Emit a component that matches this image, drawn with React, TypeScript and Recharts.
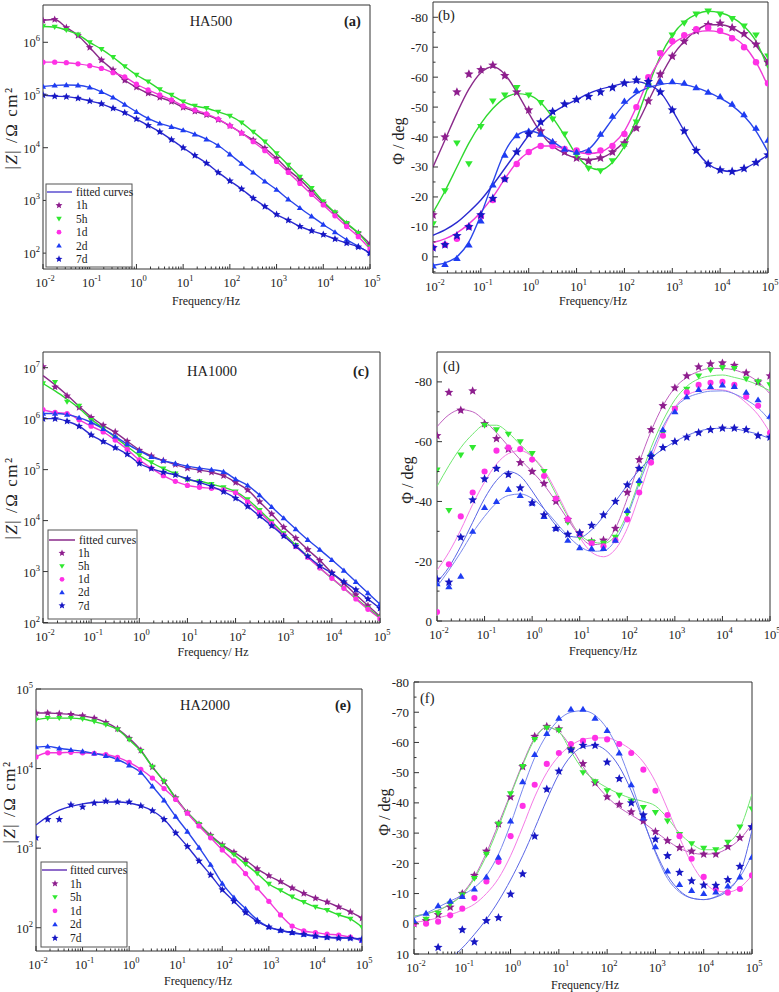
import React from 'react';
import { ComposedChart, Line, Scatter, XAxis, YAxis, ReferenceArea } from 'recharts';

const SERIF = '"Liberation Serif", "Times New Roman", serif';
const W = 779;
const H = 992;
const AX = '#333';

// ---------------- shared categories ----------------
const FREQ = [0.01, 0.0178, 0.0316, 0.0562, 0.1, 0.178, 0.316, 0.562, 1, 1.78, 3.16, 5.62, 10, 17.8, 31.6, 56.2, 100, 178, 316, 562, 1000, 1780, 3160, 5620, 10000, 17800, 31600, 56200, 100000];
const X_MAJOR = [0.01, 0.1, 1, 10, 100, 1000, 10000, 100000];
const X_MINOR = X_MAJOR.slice(0, -1).flatMap((m) => [2, 3, 4, 5, 6, 7, 8, 9].map((k) => k * m));

// ---------------- (a) HA500 |Z| ----------------
const A_H1 = [2.6e6, 2.7e6, 1.9e6, 1.35e6, 8.0e5, 4.6e5, 3.0e5, 1.9e5, 1.4e5, 1.08e5, 9.0e4, 7.5e4, 5.8e4, 4.9e4, 4.2e4, 3.4e4, 2.6e4, 1.9e4, 1.4e4, 9.8e3, 6.3e3, 3.8e3, 2.5e3, 1.5e3, 890, 580, 360, 240, 150];
const A_H5 = [2.0e6, 1.95e6, 1.7e6, 1.4e6, 1.0e6, 7.4e5, 5.2e5, 3.5e5, 2.4e5, 1.8e5, 1.28e5, 1.0e5, 7.5e4, 6.2e4, 5.6e4, 4.8e4, 4.0e4, 3.0e4, 2.0e4, 1.3e4, 7.8e3, 4.7e3, 2.8e3, 1.7e3, 950, 590, 370, 240, 130];
const A_D1 = [4.2e5, 4.2e5, 4.1e5, 3.9e5, 3.6e5, 3.2e5, 2.65e5, 2.2e5, 1.6e5, 1.25e5, 1.0e5, 8.1e4, 6.2e4, 5.2e4, 4.4e4, 3.5e4, 2.6e4, 1.9e4, 1.3e4, 8.8e3, 5.5e3, 3.4e3, 2.1e3, 1.3e3, 820, 510, 320, 205, 120];
const A_D2 = [1.45e5, 1.52e5, 1.55e5, 1.53e5, 1.4e5, 1.15e5, 9.0e4, 6.6e4, 4.8e4, 3.6e4, 2.9e4, 2.5e4, 2.15e4, 1.8e4, 1.45e4, 1.1e4, 7.5e3, 5.0e3, 3.4e3, 2.3e3, 1.6e3, 1.05e3, 720, 500, 350, 250, 180, 135, 100];
const A_D7 = [1.0e5, 9.5e4, 9.3e4, 8.7e4, 7.7e4, 6.8e4, 5.6e4, 4.6e4, 3.5e4, 2.65e4, 2.0e4, 1.42e4, 1.0e4, 7.1e3, 5.1e3, 3.4e3, 2.35e3, 1.65e3, 1.1e3, 770, 540, 420, 320, 265, 225, 185, 155, 131, 100];

// ---------------- (b) HA500 phase ----------------
const B_H1 = [-14, -40, -55, -61, -62.5, -64, -60.5, -55, -49, -42, -38, -35, -33, -32, -33, -35, -38, -43, -52, -61, -67, -72, -75.5, -77.5, -78, -76.5, -74.5, -71, -65];
const B_H1_F = [-30, -39, -48, -56, -61.5, -63.5, -61, -55, -48, -41.5, -37, -34.5, -33, -32.5, -33, -35, -38.5, -44, -52, -60, -67, -72, -75.5, -77.5, -77.5, -76.5, -74, -70.5, -65];
const B_H5 = [-11, -22, -38, -31, -43.5, -52, -54, -56.5, -54, -51.5, -46, -41, -34, -29.5, -28.7, -32, -37, -45, -57, -68, -74, -78, -81, -82, -81, -79.5, -77, -74, -67];
const B_H5_F = [-14.8, -22, -30, -38, -44.5, -49.5, -53, -54.5, -54, -51.5, -46.5, -40.5, -34, -30, -29, -31.5, -37, -46, -57, -67, -74, -78.5, -81, -82, -81.5, -80, -77, -72, -63];
const B_D1 = [-3, -4, -6, -10, -13.5, -19, -26, -31, -35, -37, -37, -36, -35.5, -35, -35.5, -37, -41, -50, -60, -68, -72, -74, -76, -76.5, -75.5, -73, -70, -65, -58];
const B_D1_F = [-4.8, -6, -8, -11, -15, -20, -26, -31.5, -35, -37, -37, -36, -35, -34.5, -35, -37.5, -42, -50, -59, -66, -71, -73.5, -75, -75.5, -75, -73.5, -70.5, -65, -57];
const B_D2 = [3, 2.5, 0.5, -4, -12, -24, -34, -40.5, -42, -41, -38.5, -36, -35, -35.5, -41, -47, -52, -55.5, -57.5, -58.5, -58.5, -58, -56.5, -55, -53.5, -51, -47.5, -43, -39];
const B_D2_F = [2.8, 2, 0, -5, -14, -25, -35, -40.5, -42, -41, -38.5, -36, -35, -36, -40.5, -46, -51, -54.5, -56.5, -57.5, -58, -57.5, -56.5, -55, -53, -50.5, -47, -42, -35];
const B_D7 = [-3, -4, -7, -10, -14, -19.5, -26, -35, -41, -45, -48.5, -51, -52.5, -53.5, -55, -56.5, -58, -59, -58.5, -55, -49, -42, -35.5, -31, -29, -28.5, -29.5, -31.5, -34];
const B_D7_F = [-7.2, -9, -11.5, -15, -19, -24, -29.5, -35, -40.5, -44.5, -48, -50.5, -52.5, -54.5, -56, -57, -58, -58.5, -57.5, -55, -49, -42, -35.5, -31, -29, -28.5, -29.5, -31.5, -34];

// ---------------- (c) HA1000 |Z| ----------------
const C_H1 = [1.05e7, 4.2e6, 2.8e6, 1.66e6, 1.05e6, 7.4e5, 5.5e5, 3.6e5, 2.4e5, 1.86e5, 1.5e5, 1.26e5, 1.07e5, 9.8e4, 8.9e4, 7.6e4, 5.6e4, 4.0e4, 2.34e4, 1.35e4, 7.4e3, 4.5e3, 2.7e3, 1.66e3, 950, 590, 350, 215, 132];
const C_H1_F = [7.0e6, 4.6e6, 2.9e6, 1.75e6, 1.08e6, 7.4e5, 5.4e5, 3.6e5, 2.45e5, 1.86e5, 1.5e5, 1.26e5, 1.07e5, 9.8e4, 8.9e4, 7.6e4, 5.6e4, 4.0e4, 2.34e4, 1.35e4, 7.4e3, 4.5e3, 2.7e3, 1.66e3, 950, 590, 350, 215, 132];
const C_H5 = [4.9e6, 5.2e6, 2.14e6, 1.78e6, 9.3e5, 6.3e5, 4.2e5, 2.8e5, 1.9e5, 1.38e5, 1.05e5, 8.3e4, 6.3e4, 5.9e4, 5.2e4, 4.5e4, 3.7e4, 2.6e4, 1.6e4, 9.5e3, 5.6e3, 3.3e3, 1.95e3, 1.18e3, 740, 470, 300, 190, 126];
const C_H5_F = [4.9e6, 3.5e6, 2.4e6, 1.6e6, 9.8e5, 6.5e5, 4.3e5, 2.85e5, 1.9e5, 1.38e5, 1.05e5, 8.3e4, 6.3e4, 5.9e4, 5.2e4, 4.5e4, 3.7e4, 2.6e4, 1.6e4, 9.5e3, 5.6e3, 3.3e3, 1.95e3, 1.18e3, 740, 470, 300, 190, 126];
const C_D1 = [1.5e6, 1.32e6, 1.26e6, 9.5e5, 7.1e5, 5.5e5, 3.8e5, 2.5e5, 1.55e5, 1.07e5, 7.6e4, 5.9e4, 4.9e4, 4.5e4, 4.3e4, 4.0e4, 3.5e4, 2.34e4, 1.45e4, 8.7e3, 5.2e3, 3.1e3, 1.9e3, 1.18e3, 740, 470, 290, 182, 120];
const C_D2 = [1.26e6, 1.26e6, 1.2e6, 1.05e6, 8.5e5, 6.3e5, 4.5e5, 3.16e5, 2.34e5, 1.78e5, 1.5e5, 1.32e5, 1.17e5, 1.07e5, 1.0e5, 9.1e4, 6.5e4, 4.9e4, 3.16e4, 1.86e4, 1.12e4, 6.8e3, 4.2e3, 2.7e3, 1.7e3, 1.05e3, 630, 380, 230];
const C_D7 = [1.0e6, 1.0e6, 8.9e5, 7.1e5, 4.8e5, 3.55e5, 2.7e5, 2.0e5, 1.32e5, 1.05e5, 8.9e4, 7.9e4, 6.6e4, 5.6e4, 4.7e4, 3.7e4, 2.75e4, 1.9e4, 1.23e4, 7.9e3, 5.0e3, 3.16e3, 2.0e3, 1.29e3, 930, 630, 440, 290, 190];

// ---------------- (d) HA1000 phase ----------------
const D_H1 = [-62, -76.5, -70.5, -77, -66, -61, -57.5, -53, -50, -46, -40, -34, -29.5, -26.5, -27, -31, -43, -54, -64, -72, -78, -82, -85, -86, -86.3, -85.5, -83, -80, -82];
const D_H1_F = [-65, -69, -70.7, -70, -67, -63, -58.5, -54, -50, -45.5, -40, -34, -28.5, -25.5, -26, -31, -41, -53, -63.5, -72, -78, -81.5, -83.5, -84.5, -84.5, -84, -82.5, -80, -76];
const D_H5 = [-50.5, -37, -55.5, -58, -65.5, -64, -62.5, -60, -56, -50, -41, -33, -28, -26.5, -26, -28, -36, -46, -55, -63, -71, -77.5, -82, -84, -84.7, -84.5, -81, -80, -79];
const D_H5_F = [-45, -52, -58, -62.5, -65.5, -65.5, -63, -59, -55, -50, -42.5, -35, -29, -26.5, -26, -28.5, -36, -47, -58, -67, -74, -78.5, -81, -82, -82.3, -81.5, -80.5, -79, -77];
const D_D1 = [-3, -19, -35, -43, -50, -57, -58, -57.5, -54, -48.5, -41, -34, -29, -26, -25, -27, -34, -43, -53, -62, -71, -76.5, -79, -79.7, -80, -79, -75, -72, -63];
const D_D1_F = [-17, -23, -30.5, -39, -46.5, -52.5, -56, -57, -55, -50.5, -43.5, -35.5, -28, -23, -21.5, -24, -31, -42, -54, -64, -71.5, -75.5, -77, -77.5, -77.3, -76, -73, -69, -63];
const D_D2 = [-12.5, -11.5, -15, -30, -38, -40, -44, -42, -39.5, -35, -31, -27, -24.5, -24.3, -24.3, -27, -37, -47, -56, -64, -70, -75, -77.5, -78.5, -79, -78.5, -76.5, -74, -68.5];
const D_D2_F = [-11.5, -17, -23, -29.5, -35, -39.5, -42, -42.5, -41, -37.5, -33, -28.5, -25, -23.3, -23.5, -27, -35, -46, -56, -65, -71.3, -74.6, -76.1, -76.9, -77, -76, -74, -71.3, -67];
const D_D7 = [-14, -13, -28, -40.5, -47.5, -51, -49, -44.5, -39.5, -35.5, -31, -29, -29.4, -32, -35.5, -40, -45.5, -51, -55, -58, -60, -61.5, -63, -64, -64.5, -64.5, -64, -62, -61.5];
const D_D7_F = [-13, -18, -25, -33, -41, -47, -50, -48.5, -43.5, -37.5, -32, -28.5, -28, -30.5, -35, -40, -45.5, -50.5, -54.5, -57.5, -60, -62, -63.5, -64.3, -64.5, -64.3, -63.5, -62.5, -61];

// ---------------- (e) HA2000 |Z| ----------------
const E_H1 = [5.0e4, 5.0e4, 4.9e4, 4.8e4, 4.6e4, 4.3e4, 3.8e4, 3.16e4, 2.4e4, 1.7e4, 1.05e4, 6.9e3, 4.3e3, 2.8e3, 2.0e3, 1.45e3, 1.1e3, 890, 710, 550, 450, 380, 316, 270, 235, 210, 182, 158, 132];
const E_H5 = [4.1e4, 4.3e4, 4.3e4, 4.3e4, 4.2e4, 3.9e4, 3.55e4, 3.1e4, 2.3e4, 1.66e4, 1.05e4, 6.9e3, 4.2e3, 2.8e3, 2.0e3, 1.4e3, 1.07e3, 830, 630, 480, 355, 295, 245, 210, 182, 166, 145, 129, 102];
const E_D1 = [1.4e4, 1.58e4, 1.58e4, 1.6e4, 1.58e4, 1.55e4, 1.5e4, 1.38e4, 1.2e4, 9.8e3, 7.6e3, 5.6e3, 4.1e3, 2.75e3, 1.9e3, 1.35e3, 950, 690, 480, 316, 215, 145, 105, 91, 87, 83, 81, 76, 69];
const E_D2 = [1.86e4, 1.9e4, 1.8e4, 1.72e4, 1.65e4, 1.55e4, 1.45e4, 1.3e4, 1.1e4, 8.9e3, 6.0e3, 4.0e3, 2.5e3, 1.62e3, 1.02e3, 620, 360, 240, 174, 126, 102, 92, 86, 82, 78, 76, 75, 74, 69];
const E_D7 = [1.35e3, 2.3e3, 2.3e3, 3.5e3, 3.3e3, 3.7e3, 3.9e3, 3.8e3, 3.8e3, 3.4e3, 2.95e3, 2.3e3, 1.55e3, 1.05e3, 690, 460, 300, 215, 155, 120, 102, 93, 87, 83, 79, 76, 74, 74, 72];
const E_D7_F = [1.95e3, 2.5e3, 3.0e3, 3.35e3, 3.6e3, 3.75e3, 3.8e3, 3.8e3, 3.7e3, 3.4e3, 2.95e3, 2.3e3, 1.55e3, 1.05e3, 690, 460, 300, 215, 155, 120, 102, 93, 87, 83, 79, 76, 74, 74, 72];

// ---------------- (f) HA2000 phase ----------------
const F_H1 = [0, -1, -3, -5.5, -10, -16, -24, -33, -42, -52, -62, -65.3, -64.5, -58, -53, -46.6, -42, -39.5, -37, -34, -30.5, -27.5, -25.2, -24, -23, -23, -25.5, -28.5, -32];
const F_H1_F = [-2.5, -3.3, -4.5, -6.5, -10, -15.5, -23.5, -33, -43, -53, -61.5, -65, -63.5, -58.5, -52, -46.5, -42, -38.5, -36, -33.5, -30.5, -27.5, -25, -23.5, -23, -23.3, -25, -28, -33];
const F_H5 = [0.5, -1.5, -3.5, -6.5, -9.5, -15, -23, -33, -43, -52, -61, -64.8, -64, -57.5, -50, -47, -44, -42.5, -40.5, -38.5, -36.8, -34, -29.5, -26.5, -25, -24.5, -27, -32, -38];
const F_H5_F = [-2.5, -3.3, -4.5, -6.5, -9.5, -15, -22.5, -32, -42.5, -52.5, -61, -65, -63.5, -57, -51, -47.5, -45, -43, -41.5, -40.5, -39, -35, -30, -26.5, -24.5, -24.5, -26.5, -31.5, -43];
const F_D1 = [0, 0, -0.7, -2.8, -5, -8.5, -14, -20.5, -29, -39, -46, -52.9, -56.5, -59.5, -60.5, -61.5, -61, -59.5, -56.5, -51, -44, -36, -29, -21.5, -15.5, -11.5, -10.3, -11.5, -16];
const F_D1_F = [-0.5, -1, -2, -3, -4.5, -6.5, -10, -15, -22.5, -32, -42, -50, -55.5, -59, -61, -61.5, -61.5, -60, -57.5, -53.5, -47, -38, -28.5, -20, -14, -11, -10.5, -12, -16];
const F_D2 = [-1, -3.5, -6, -7.5, -9, -11.5, -15.5, -22, -34, -47, -56, -63, -68, -71, -71, -68, -64, -56.5, -46, -35, -25.5, -17.5, -13, -11, -10, -10.5, -12.5, -15.5, -22];
const F_D2_F = [-2, -3.5, -5.5, -7.5, -9.5, -12, -16, -23, -33, -44.5, -55, -62.5, -67.5, -70, -70.5, -69, -64.5, -57, -46.5, -34.5, -23.5, -15, -10.5, -8.5, -8, -9, -11.5, -15.5, -23];
const F_D7 = [null, null, 7.8, null, 2, 6, -1, -2, -9.8, -16.5, -29, -44.5, -50.5, -57.5, -59, -59, -53.5, -48, -40, -36, -28, -22.5, -17, -14.2, -12.8, -12.7, -14.6, -19, -32];
const F_D7_F = [null, null, null, 11.5, 8, 3.5, -1.5, -7.5, -14.5, -22.5, -31.5, -41, -49.5, -55.5, -58.5, -59, -57, -52, -44, -34, -24, -16, -11, -8.5, -8, -8.8, -11, -16.5, -31];

// ---------------- series styling ----------------
type Kind = 'star' | 'tdown' | 'circle' | 'tup';
const SERIES: { key: string; name: string; kind: Kind; color: string; line: string; light: string }[] = [
  { key: 'h1', name: '1h', kind: 'star', color: '#8e1e8e', line: '#8a2a8a', light: '#c060c0' },
  { key: 'h5', name: '5h', kind: 'tdown', color: '#30e830', line: '#2fd82f', light: '#70e870' },
  { key: 'd1', name: '1d', kind: 'circle', color: '#ff30e6', line: '#f03ad8', light: '#f57ae6' },
  { key: 'd2', name: '2d', kind: 'tup', color: '#1e3cf2', line: '#2a46ea', light: '#7888ee' },
  { key: 'd7', name: '7d', kind: 'star', color: '#1717c4', line: '#2a2ad0', light: '#5a66e6' },
];

type Box = { x: number; y: number; w: number; h: number };
type Panel = {
  id: string;
  box: Box;
  log: boolean;
  yDomain: [number, number];
  yTicks: number[];
  yMinor: number[];
  marks: (number | null)[][];
  fits: (number | null)[][];
  light: boolean;
  r: number;
};

const PANELS: Panel[] = [
  { id: 'a', box: { x: 43, y: 5, w: 327, h: 264 }, log: true, yDomain: [50, 5.1e6], yTicks: [1e2, 1e3, 1e4, 1e5, 1e6], yMinor: [],
    marks: [A_H1, A_H5, A_D1, A_D2, A_D7], fits: [A_H1, A_H5, A_D1, A_D2, A_D7], light: false, r: 3.1 },
  { id: 'b', box: { x: 433, y: 2, w: 335, h: 271 }, log: false, yDomain: [-85.1, 5.4], yTicks: [-80, -70, -60, -50, -40, -30, -20, -10, 0], yMinor: [-75, -65, -55, -45, -35, -25, -15, -5, 5],
    marks: [B_H1, B_H5, B_D1, B_D2, B_D7], fits: [B_H1_F, B_H5_F, B_D1_F, B_D2_F, B_D7_F], light: false, r: 3.8 },
  { id: 'c', box: { x: 43, y: 352, w: 337, h: 271 }, log: true, yDomain: [98, 2.03e7], yTicks: [1e2, 1e3, 1e4, 1e5, 1e6, 1e7], yMinor: [],
    marks: [C_H1, C_H5, C_D1, C_D2, C_D7], fits: [C_H1_F, C_H5_F, C_D1, C_D2, C_D7], light: false, r: 3.1 },
  { id: 'd', box: { x: 437, y: 352, w: 333, h: 269 }, log: false, yDomain: [-90, 0], yTicks: [-80, -60, -40, -20, 0], yMinor: [-70, -50, -30, -10],
    marks: [D_H1, D_H5, D_D1, D_D2, D_D7], fits: [D_H1_F, D_H5_F, D_D1_F, D_D2_F, D_D7_F], light: true, r: 3.6 },
  { id: 'e', box: { x: 36, y: 689, w: 326, h: 262 }, log: true, yDomain: [51, 1e5], yTicks: [1e2, 1e3, 1e4, 1e5], yMinor: [],
    marks: [E_H1, E_H5, E_D1, E_D2, E_D7], fits: [E_H1, E_H5, E_D1, E_D2, E_D7_F], light: false, r: 3.1 },
  { id: 'f', box: { x: 414, y: 682, w: 338, h: 272 }, log: false, yDomain: [-80, 10], yTicks: [-80, -70, -60, -50, -40, -30, -20, -10, 0, 10], yMinor: [-75, -65, -55, -45, -35, -25, -15, -5, 5],
    marks: [F_H1, F_H5, F_D1, F_D2, F_D7], fits: [F_H1_F, F_H5_F, F_D1_F, F_D2_F, F_D7_F], light: true, r: 3.6 },
];

const toPts = (arr: (number | null)[]) =>
  FREQ.map((f, i) => ({ f, y: arr[i] })).filter((d) => d.y !== null && d.y !== undefined);

function starPath(cx: number, cy: number, r: number) {
  let d = '';
  for (let i = 0; i < 10; i++) {
    const a = -Math.PI / 2 + (i * Math.PI) / 5;
    const rr = i % 2 === 0 ? r : r * 0.45;
    d += (i === 0 ? 'M' : 'L') + (cx + rr * Math.cos(a)).toFixed(2) + ',' + (cy + rr * Math.sin(a)).toFixed(2);
  }
  return d + 'Z';
}

function Glyph({ cx, cy, kind, color, r }: { cx: number; cy: number; kind: Kind; color: string; r: number }) {
  if (!Number.isFinite(cx) || !Number.isFinite(cy)) return null;
  if (kind === 'star') return <path d={starPath(cx, cy, r * 1.3)} fill={color} />;
  if (kind === 'circle') return <circle cx={cx} cy={cy} r={r * 0.85} fill={color} />;
  if (kind === 'tdown')
    return <path d={`M${cx - r},${cy - r * 0.7}L${cx + r},${cy - r * 0.7}L${cx},${cy + r * 0.95}Z`} fill={color} />;
  return <path d={`M${cx - r},${cy + r * 0.7}L${cx + r},${cy + r * 0.7}L${cx},${cy - r * 0.95}Z`} fill={color} />;
}

const xTick = (box: Box) => (t: any) => {
  const v = Number(t.payload?.value);
  const lg = Math.log10(v);
  const e = Math.round(lg);
  const major = Math.abs(lg - e) < 1e-6;
  const b = box.y + box.h;
  return (
    <g>
      <line x1={t.x} x2={t.x} y1={b} y2={b - (major ? 5 : 2.5)} stroke={AX} strokeWidth={1} />
      {major ? (
        <text x={t.x + 2} y={b + 18} textAnchor="middle" fontFamily={SERIF} fontSize={12.5} fill="#222">
          10<tspan dy={-6} fontSize={8.5}>{e}</tspan>
        </text>
      ) : null}
    </g>
  );
};

const yTick = (p: Panel) => (t: any) => {
  const v = Number(t.payload?.value);
  const major = p.yTicks.includes(v);
  const y = t.y;
  const L = p.box.x;
  return (
    <g>
      <line x1={L} x2={L + (major ? 5 : 2.5)} y1={y} y2={y} stroke={AX} strokeWidth={1} />
      {major ? (
        p.log ? (
          <text x={L - 3} y={y + 5} textAnchor="end" fontFamily={SERIF} fontSize={12.5} fill="#222">
            10<tspan dy={-6} fontSize={8.5}>{Math.round(Math.log10(v))}</tspan>
          </text>
        ) : (
          <text x={L - 5} y={y + 4.5} textAnchor="end" fontFamily={SERIF} fontSize={13} fill="#222">
            {v}
          </text>
        )
      ) : null}
    </g>
  );
};

function PanelChart({ p }: { p: Panel }) {
  const { box } = p;
  const yw = Math.min(35, box.x);
  const xh = 30;
  const margin = { left: box.x - yw, top: box.y, right: W - box.x - box.w, bottom: H - box.y - box.h - xh };
  return (
    <div style={{ position: 'absolute', left: 0, top: 0 }}>
      <ComposedChart width={W} height={H} margin={margin}>
        <XAxis dataKey="f" type="number" scale="log" domain={[0.01, 100000]} allowDataOverflow
          ticks={[...X_MAJOR, ...X_MINOR]} interval={0} height={xh} axisLine={false} tickLine={false} tick={xTick(box)} />
        <YAxis dataKey="y" type="number" scale={p.log ? 'log' : 'linear'} domain={p.yDomain} allowDataOverflow reversed={!p.log}
          ticks={[...p.yTicks, ...p.yMinor]} interval={0} width={yw} axisLine={false} tickLine={false} tick={yTick(p)} />
        <ReferenceArea x1={0.01} x2={100000} y1={p.yDomain[0]} y2={p.yDomain[1]} fill="none" stroke={AX} strokeWidth={1} ifOverflow="visible" />
        {SERIES.map((s, i) => (
          <Line key={'l' + s.key} data={toPts(p.fits[i])} dataKey="y" type="monotone"
            stroke={p.light ? s.light : s.line} strokeWidth={p.light ? 1 : 1.4}
            dot={false} activeDot={false} isAnimationActive={false} />
        ))}
        {SERIES.map((s, i) => (
          <Scatter key={'s' + s.key} data={toPts(p.marks[i])} dataKey="y" fill={s.color} isAnimationActive={false}
            shape={(sp: any) => <Glyph cx={sp.cx} cy={sp.cy} kind={s.kind} color={s.color} r={p.r} />} />
        ))}
      </ComposedChart>
    </div>
  );
}

function LegendBox({ x, y, w, h, y0, dy, lineEnd, textX, mx, lx, lineColor }: any) {
  return (
    <g fontFamily={SERIF} fontSize={11.5} fill="#222">
      <rect x={x} y={y} width={w} height={h} fill="#fff" stroke="#555" strokeWidth={1} />
      <line x1={x + 1} x2={x + lineEnd} y1={y + y0} y2={y + y0} stroke={lineColor} strokeWidth={1.5} />
      <text x={x + textX} y={y + y0 + 4}>fitted curves</text>
      {SERIES.map((s, i) => {
        const cy = y + y0 + (i + 1) * dy;
        return (
          <g key={s.key}>
            <Glyph cx={x + mx} cy={cy} kind={s.kind} color={s.color} r={2.8} />
            <text x={x + lx} y={cy + 4}>{s.name}</text>
          </g>
        );
      })}
    </g>
  );
}

function YTitle({ cx, cy, children, size, spacing }: any) {
  return (
    <text x={cx} y={cy} transform={`rotate(-90 ${cx} ${cy})`} textAnchor="middle" dominantBaseline="central"
      fontFamily={SERIF} fontSize={size} fill="#222" letterSpacing={spacing || 0}>
      {children}
    </text>
  );
}

const ZLabel = () => (
  <>
    |<tspan fontStyle="italic">Z</tspan>| /Ω cm²
  </>
);

export default function App() {
  return (
    <div style={{ position: 'absolute', left: 0, top: 0, width: W, height: H, background: '#fff', fontFamily: SERIF }}>
      {PANELS.map((p) => (
        <PanelChart key={p.id} p={p} />
      ))}
      <svg width={W} height={H} style={{ position: 'absolute', left: 0, top: 0, pointerEvents: 'none' }}>
        <g fontFamily={SERIF} fill="#222">
          {/* panel titles */}
          <text x={211} y={26} textAnchor="middle" fontSize={14.5}>HA500</text>
          <text x={344} y={26} fontSize={14.5} fontWeight="bold">(a)</text>
          <text x={438} y={20} fontSize={14.5}>(b)</text>
          <text x={212} y={376} textAnchor="middle" fontSize={14.5}>HA1000</text>
          <text x={353} y={376} fontSize={14.5} fontWeight="bold">(c)</text>
          <text x={443} y={371} fontSize={14.5}>(d)</text>
          <text x={205} y={710} textAnchor="middle" fontSize={14.5}>HA2000</text>
          <text x={335} y={710} fontSize={14.5} fontWeight="bold">(e)</text>
          <text x={420} y={703} fontSize={14.5}>(f)</text>
          {/* x titles */}
          <text x={206} y={305} textAnchor="middle" fontSize={12}>Frequency/Hz</text>
          <text x={593} y={305} textAnchor="middle" fontSize={12}>Frequency/Hz</text>
          <text x={213} y={656} textAnchor="middle" fontSize={12}>Frequency/ Hz</text>
          <text x={603} y={655} textAnchor="middle" fontSize={12}>Frequency/Hz</text>
          <text x={198} y={985} textAnchor="middle" fontSize={12}>Frequency/Hz</text>
          <text x={585} y={989} textAnchor="middle" fontSize={12}>Frequency/Hz</text>
        </g>
        {/* y titles */}
        <YTitle cx={11} cy={128} size={17} spacing={1.5}><ZLabel /></YTitle>
        <YTitle cx={398} cy={141} size={16}>Φ / deg</YTitle>
        <YTitle cx={11} cy={498} size={17} spacing={1.5}><ZLabel /></YTitle>
        <YTitle cx={407} cy={480} size={16}>Φ / deg</YTitle>
        <YTitle cx={9} cy={802} size={17} spacing={1.5}><ZLabel /></YTitle>
        <YTitle cx={384} cy={812} size={16}>Φ / deg</YTitle>
        {/* legends */}
        <LegendBox x={46} y={184} w={86} h={83} y0={8} dy={13.4} lineEnd={26} textX={30} mx={13} lx={30} lineColor="#5b4fd0" />
        <LegendBox x={48} y={530} w={89} h={89} y0={10} dy={13.1} lineEnd={27} textX={31} mx={14} lx={30} lineColor="#8a2a8a" />
        <LegendBox x={41} y={862} w={86} h={85} y0={8} dy={13.6} lineEnd={26} textX={29} mx={14} lx={29} lineColor="#6a3ab8" />
      </svg>
    </div>
  );
}
